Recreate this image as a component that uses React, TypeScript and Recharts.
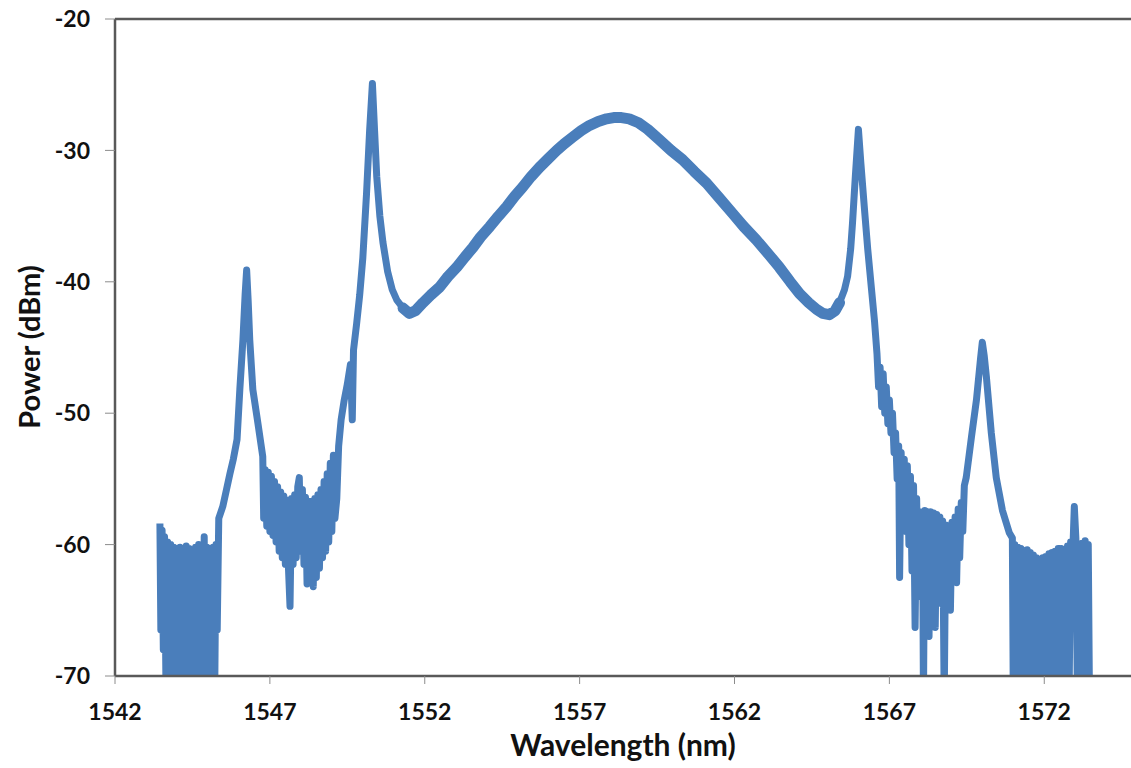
import { LineChart, Line, XAxis, YAxis, ReferenceLine, Label } from 'recharts'

// [wavelength nm, power dBm], left to right
const leftFloor: [number, number][] = [
  [1543.45, -58.4], [1543.48, -66.5], [1543.52, -58.9], [1543.56, -68], [1543.6, -59.4],
  [1543.65, -72], [1543.7, -59.8], [1543.75, -72], [1543.8, -60.0], [1543.85, -72],
  [1543.9, -60.2], [1543.95, -72], [1544.0, -60.3], [1544.05, -72], [1544.1, -60.2],
  [1544.15, -72], [1544.2, -60.4], [1544.25, -72], [1544.3, -60.1], [1544.35, -72],
  [1544.4, -60.3], [1544.45, -72], [1544.5, -60.5], [1544.55, -72], [1544.6, -60.2],
  [1544.65, -72], [1544.7, -60.0], [1544.75, -72], [1544.8, -60.3], [1544.85, -72],
  [1544.88, -59.4], [1544.92, -72], [1544.97, -60.2], [1545.02, -72], [1545.07, -60.4],
  [1545.12, -72], [1545.17, -60.2], [1545.22, -71], [1545.26, -60.0], [1545.3, -66.5],
]

const peak1546: [number, number][] = [
  [1545.35, -58.0], [1545.48, -57.1], [1545.6, -55.8], [1545.71, -54.6], [1545.82, -53.5],
  [1545.94, -52.0], [1546.03, -48.2], [1546.13, -44.4], [1546.2, -41.0], [1546.25, -39.1],
  [1546.3, -41.5], [1546.35, -44.4], [1546.45, -48.2], [1546.61, -50.7], [1546.77, -53.3],
]

const midNoise: [number, number][] = [
  [1546.8, -58.0], [1546.85, -54.3], [1546.9, -58.6], [1546.95, -54.5], [1547.0, -59.0],
  [1547.05, -54.8], [1547.1, -59.3], [1547.15, -55.2], [1547.2, -59.8], [1547.25, -55.6],
  [1547.3, -60.5], [1547.35, -56.0], [1547.4, -61.0], [1547.45, -56.3], [1547.5, -61.5],
  [1547.55, -56.6], [1547.6, -61.8], [1547.65, -64.7], [1547.7, -56.5], [1547.75, -61.5],
  [1547.8, -56.2], [1547.85, -61.0], [1547.9, -55.6], [1547.95, -54.9], [1548.0, -60.5],
  [1548.05, -55.8], [1548.1, -61.5], [1548.15, -56.4], [1548.2, -63.0], [1548.25, -56.7],
  [1548.3, -62.0], [1548.35, -56.7], [1548.4, -63.2], [1548.45, -56.5], [1548.5, -62.5],
  [1548.55, -56.2], [1548.6, -61.8], [1548.65, -55.8], [1548.7, -61.0], [1548.75, -55.2],
  [1548.8, -60.5], [1548.85, -54.6], [1548.9, -59.8], [1548.95, -53.8], [1549.0, -59.0],
  [1549.05, -53.2], [1549.1, -58.0], [1549.16, -56.5],
]

const peak1550: [number, number][] = [
  [1549.22, -52.5], [1549.3, -50.5], [1549.4, -49.0], [1549.5, -47.8], [1549.6, -46.3],
  [1549.66, -50.5], [1549.7, -45.2], [1549.8, -43.2], [1549.9, -41.0], [1550.0, -38.2],
  [1550.12, -33.3], [1550.22, -28.5], [1550.31, -24.9], [1550.38, -28.5], [1550.45, -32.0],
  [1550.55, -35.0], [1550.65, -37.0], [1550.8, -39.2], [1550.95, -40.6], [1551.1, -41.4],
]

const centralHump: [number, number][] = [
  [1551.3, -42.0], [1551.5, -42.4], [1551.7, -42.2], [1551.94, -41.6], [1552.2, -41.0],
  [1552.48, -40.4], [1552.75, -39.6], [1553.03, -38.9], [1553.3, -38.1], [1553.55, -37.4],
  [1553.8, -36.6], [1554.1, -35.8], [1554.38, -35.0], [1554.64, -34.3], [1554.9, -33.5],
  [1555.16, -32.8], [1555.43, -32.0], [1555.7, -31.3], [1556.0, -30.6], [1556.26, -30.0],
  [1556.5, -29.5], [1556.77, -29.0], [1557.05, -28.5], [1557.32, -28.1], [1557.6, -27.8],
  [1557.87, -27.6], [1558.1, -27.5], [1558.35, -27.5], [1558.6, -27.6], [1558.9, -27.9],
  [1559.2, -28.4], [1559.58, -29.2], [1559.95, -30.0], [1560.32, -30.7], [1560.7, -31.6],
  [1561.1, -32.5], [1561.5, -33.6], [1561.94, -34.8], [1562.3, -35.8], [1562.7, -36.8],
  [1563.1, -37.9], [1563.45, -38.9], [1563.8, -40.0], [1564.1, -40.9], [1564.4, -41.6],
  [1564.65, -42.1], [1564.85, -42.4], [1565.06, -42.5], [1565.25, -42.2], [1565.39, -41.6],
]

const peak1566: [number, number][] = [
  [1565.55, -40.6], [1565.65, -39.6], [1565.75, -37.5], [1565.81, -35.5], [1565.9, -32.0],
  [1566.0, -28.4], [1566.08, -31.0], [1566.19, -34.3], [1566.3, -37.5], [1566.42, -40.5],
  [1566.52, -43.0], [1566.6, -45.5],
]

const rightNoise: [number, number][] = [
  [1566.65, -48.0], [1566.7, -46.5], [1566.75, -49.5], [1566.8, -47.0], [1566.85, -50.0],
  [1566.9, -48.0], [1566.95, -50.8], [1567.0, -49.0], [1567.05, -51.5], [1567.1, -50.0],
  [1567.15, -53.0], [1567.2, -51.5], [1567.25, -55.0], [1567.3, -52.5], [1567.33, -62.5],
  [1567.38, -53.0], [1567.43, -58.0], [1567.48, -53.5], [1567.53, -59.0], [1567.58, -54.0],
  [1567.63, -60.0], [1567.68, -54.8], [1567.73, -62.0], [1567.78, -55.5], [1567.83, -66.3],
  [1567.88, -56.5], [1567.93, -63.0], [1567.98, -57.5], [1568.03, -64.0], [1568.07, -58.0],
  [1568.1, -72], [1568.14, -57.4], [1568.19, -64.5], [1568.24, -57.5], [1568.28, -67.0],
  [1568.33, -57.5], [1568.38, -64.0], [1568.43, -57.6], [1568.48, -66.3], [1568.53, -57.7],
  [1568.58, -63.5], [1568.63, -57.9], [1568.68, -64.5], [1568.72, -58.2], [1568.77, -72],
  [1568.82, -58.5], [1568.87, -63.5], [1568.92, -58.7], [1568.97, -65.0], [1569.02, -58.3],
  [1569.07, -62.0], [1569.12, -57.9], [1569.17, -62.9], [1569.22, -57.3], [1569.27, -61.0],
  [1569.32, -56.8], [1569.37, -59.0], [1569.42, -55.5],
]

const peak1570: [number, number][] = [
  [1569.48, -54.9], [1569.65, -51.8], [1569.81, -49.0], [1569.94, -45.9], [1570.0, -44.6],
  [1570.06, -45.6], [1570.13, -47.2], [1570.29, -51.5], [1570.45, -54.9], [1570.65, -57.4],
  [1570.87, -59.1],
]

const rightFloor: [number, number][] = [
  [1570.97, -59.5], [1571.0, -72], [1571.05, -60.0], [1571.1, -72], [1571.15, -60.2],
  [1571.2, -72], [1571.25, -60.3], [1571.3, -72], [1571.35, -60.5], [1571.4, -72],
  [1571.45, -60.4], [1571.5, -72], [1571.55, -60.6], [1571.6, -72], [1571.65, -60.8],
  [1571.7, -72], [1571.75, -61.0], [1571.8, -72], [1571.85, -61.2], [1571.9, -72],
  [1571.95, -61.0], [1572.0, -72], [1572.05, -60.9], [1572.1, -72], [1572.15, -60.7],
  [1572.2, -72], [1572.25, -60.6], [1572.3, -72], [1572.35, -60.5], [1572.4, -72],
  [1572.45, -60.3], [1572.5, -72], [1572.55, -60.3], [1572.6, -72], [1572.65, -60.4],
  [1572.7, -72], [1572.75, -60.1], [1572.8, -72], [1572.85, -59.8], [1572.9, -62.0],
  [1572.97, -57.1], [1573.02, -59.5], [1573.07, -72], [1573.12, -60.0], [1573.17, -72],
  [1573.22, -59.9], [1573.27, -72], [1573.32, -59.7], [1573.37, -72], [1573.42, -60.0],
  [1573.46, -72],
]

const xTicks = [1542, 1547, 1552, 1557, 1562, 1567, 1572]
const yTicks = [-70, -60, -50, -40, -30, -20]

// the broad central hump is a thicker, noisier band in the trace
const humpPoints = new Set(centralHump)

const spectrum = [
  ...leftFloor, ...peak1546, ...midNoise, ...peak1550, ...centralHump,
  ...peak1566, ...rightNoise, ...peak1570, ...rightFloor,
].map((pt) => ({ wl: pt[0], p: pt[1], band: humpPoints.has(pt) ? pt[1] : null }))

const font = "Lato, 'Open Sans', sans-serif"
const axisColor = '#595959'
const blue = '#4a7ebb'

export default function App() {
  return (
    <div style={{ position: 'absolute', left: 0, top: 0, background: '#fff' }}>
      <LineChart width={1131} height={768} data={spectrum} margin={{ top: 19, right: 0, bottom: 0, left: 0 }}>
        <XAxis
          type="number"
          dataKey="wl"
          domain={[1542, 1574.8]}
          ticks={xTicks}
          allowDataOverflow
          height={92}
          tickSize={8}
          tickMargin={20}
          axisLine={{ stroke: axisColor, strokeWidth: 2.5 }}
          tickLine={{ stroke: '#8c8c8c', strokeWidth: 1 }}
          tick={{ fontSize: 23, fontWeight: 700, fill: '#111', fontFamily: font }}
          label={{
            value: 'Wavelength (nm)',
            position: 'insideBottom',
            offset: 12,
            style: { fontSize: 30, fontWeight: 700, fill: '#111', fontFamily: font },
          }}
        />
        <YAxis
          type="number"
          domain={[-70, -20]}
          ticks={yTicks}
          allowDataOverflow
          width={115}
          tickSize={10}
          tickMargin={15}
          axisLine={{ stroke: axisColor, strokeWidth: 2.5 }}
          tickLine={{ stroke: '#8c8c8c', strokeWidth: 1 }}
          tick={{ fontSize: 23, fontWeight: 700, fill: '#111', fontFamily: font }}
        >
          <Label
            content={() => (
              <text
                x={28}
                y={347}
                transform="rotate(-90 28 347)"
                textAnchor="middle"
                dominantBaseline="central"
                style={{ fontSize: 29, fontWeight: 700, fill: '#111', fontFamily: font }}
              >
                Power (dBm)
              </text>
            )}
          />
        </YAxis>
        <ReferenceLine y={-20} stroke={axisColor} strokeWidth={2.5} />
        <Line
          type="linear"
          dataKey="p"
          stroke={blue}
          strokeWidth={7}
          strokeLinejoin="round"
          dot={false}
          activeDot={false}
          isAnimationActive={false}
        />
        <Line
          type="linear"
          dataKey="band"
          stroke={blue}
          strokeWidth={11}
          strokeLinejoin="round"
          strokeLinecap="round"
          dot={false}
          activeDot={false}
          isAnimationActive={false}
        />
      </LineChart>
    </div>
  )
}
